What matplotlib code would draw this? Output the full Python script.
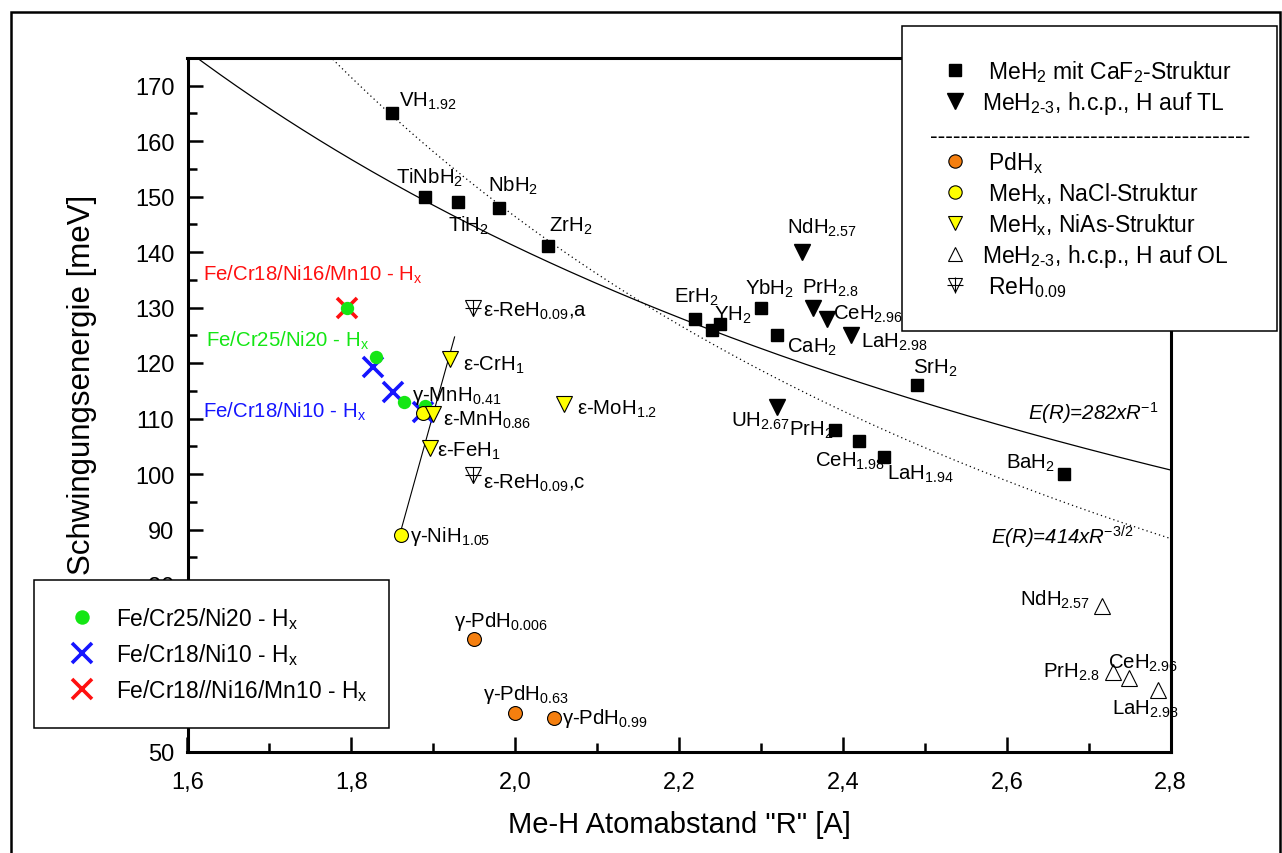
import numpy as np
import matplotlib
matplotlib.use("Agg")
import matplotlib.pyplot as plt
from matplotlib import ticker
from matplotlib.lines import Line2D
from matplotlib.patches import Rectangle

plt.rcParams['font.family'] = ['Liberation Sans', 'DejaVu Sans']
plt.rcParams['mathtext.fontset'] = 'custom'
plt.rcParams['mathtext.rm'] = 'Liberation Sans'
plt.rcParams['mathtext.it'] = 'Liberation Sans:italic'
plt.rcParams['mathtext.bf'] = 'Liberation Sans:bold'
plt.rcParams['mathtext.default'] = 'regular'

# ---------------- data ----------------
# MeH2 with CaF2 structure (black squares)
caf2_R = [1.85, 1.89, 1.93, 1.98, 2.04, 2.22, 2.24, 2.25, 2.30, 2.32, 2.49, 2.39, 2.42, 2.45, 2.67]
caf2_E = [165, 150, 149, 148, 141, 128, 126, 127, 130, 125, 116, 108, 106, 103, 100]
caf2_lbl = ['VH$_{1.92}$', 'TiNbH$_2$', 'TiH$_2$', 'NbH$_2$', 'ZrH$_2$', 'ErH$_2$', '',
            'YH$_2$', 'YbH$_2$', 'CaH$_2$', 'SrH$_2$', 'PrH$_2$', 'CeH$_{1.98}$',
            'LaH$_{1.94}$', 'BaH$_2$']

# MeH2-3, h.c.p., H on tetrahedral sites (black triangles)
tl_R = [2.35, 2.363, 2.38, 2.41, 2.32]
tl_E = [140, 130, 128, 125, 112]
tl_lbl = ['NdH$_{2.57}$', 'PrH$_{2.8}$', 'CeH$_{2.96}$', 'LaH$_{2.98}$', 'UH$_{2.67}$']

# PdHx (orange circles)
pd_R = [1.95, 2.00, 2.047]
pd_E = [70.3, 57, 56]
pd_lbl = ['γ-PdH$_{0.006}$', 'γ-PdH$_{0.63}$', 'γ-PdH$_{0.99}$']

# MeHx, NaCl structure (yellow circles)
nacl_R = [1.861, 1.888]
nacl_E = [89, 111]
nacl_lbl = ['γ-NiH$_{1.05}$', 'γ-MnH$_{0.41}$']

# MeHx, NiAs structure (yellow triangles)
nias_R = [1.92, 1.90, 1.896, 2.06]
nias_E = [120.7, 110.8, 104.6, 112.6]
nias_lbl = ['ε-CrH$_1$', 'ε-MnH$_{0.86}$', 'ε-FeH$_1$', 'ε-MoH$_{1.2}$']

# MeH2-3, h.c.p., H on octahedral sites (open triangles)
ol_R = [2.716, 2.730, 2.749, 2.785]
ol_E = [76.3, 64.4, 63.2, 61.1]
ol_lbl = ['NdH$_{2.57}$', 'PrH$_{2.8}$', 'CeH$_{2.96}$', 'LaH$_{2.98}$']

# ReH0.09
re_R = [1.949, 1.949]
re_E = [130, 99.8]
re_lbl = ['ε-ReH$_{0.09}$,a', 'ε-ReH$_{0.09}$,c']

# stainless steel hydrides
fe2520_R = [1.795, 1.830, 1.864, 1.890]
fe2520_E = [130, 121, 113, 112.3]
fe1810_R = [1.827, 1.851, 1.888]
fe1810_E = [119.2, 114.8, 111.1]
fe181610_R = [1.795]
fe181610_E = [130]

# trend line through the fcc/hcp 3d hydrides
trend_R = [1.858, 1.926]
trend_E = [88.5, 124.7]

# model curves E(R) = A * R^n
A1, N1 = 282.0, -1.0
A2, N2 = 414.0, -1.5

# ---------------- layout helpers ----------------
W, H = 1282, 854
LBL_FS = 14.7
SUB = dict(fontsize=LBL_FS, va='baseline')

caf2_off = [(7, 8, 'left'), (-29, 14, 'left'), (-10, -29, 'left'), (-11, 16.6, 'left'),
            (1, 15.6, 'left'), (-21, 16.6, 'left'), (0, 0, 'left'), (-5.7, 4.3, 'left'),
            (-16.3, 14.3, 'left'), (10, -16.7, 'left'), (-4, 12.7, 'left'),
            (-45.7, -5, 'left'), (-44.5, -25, 'left'), (3.5, -21.7, 'left'), (-9, 6.7, 'right')]
tl_off = [(-15, 19, 'left'), (-10.6, 15, 'left'), (6.7, 0, 'left'), (10, -11, 'left'),
          (-46, -18.3, 'left')]
pd_off = [(-20, 13.3, 'left'), (-32.7, 13.3, 'left'), (8.4, -5, 'left')]
nacl_off = [(8.3, -5.7, 'left'), (-11.6, 13.3, 'left')]
nias_off = [(13.3, -10.7, 'left'), (10, -11, 'left'), (6.7, -7.4, 'left'), (12.7, -10, 'left')]
ol_off = [(-12, 0.7, 'right'), (-14, -5.6, 'right'), (-20.7, 11, 'left'), (-46.6, -24.3, 'left')]
re_off = [(10, -8.4, 'left'), (10, -12.3, 'left')]

fig = plt.figure(figsize=(W / 100, H / 100), dpi=100)
ax = fig.add_axes([187.5 / W, 1 - 752.5 / H, (1170.7 - 187.5) / W, (752.5 - 58.75) / H])

# curves
R = np.linspace(1.6, 2.8, 300)
ax.plot(R, A1 * R ** N1, color='k', lw=0.9, zorder=2)
ax.plot(R, A2 * R ** N2, color='k', lw=0.9, ls=(0, (1, 2.5)), zorder=2)
ax.plot(trend_R, trend_E, color='k', lw=0.8, zorder=2)

# steel samples
ax.plot(fe181610_R, fe181610_E, ls='none', marker='x', ms=15, mew=2.6, color='#ff1010', zorder=3)
ax.plot(fe1810_R, fe1810_E, ls='none', marker='x', ms=15, mew=2.6, color='#1515ff', zorder=4)
ax.plot(fe2520_R, fe2520_E, ls='none', marker='o', ms=9.6, mew=0, color='#14e614', zorder=5)

# reference hydrides
ax.plot(caf2_R, caf2_E, ls='none', marker='s', ms=9, color='k', zorder=6)
ax.plot(tl_R, tl_E, ls='none', marker='v', ms=12, color='k', zorder=6)
ax.plot(pd_R, pd_E, ls='none', marker='o', ms=10, mfc='#f57f0f', mec='k', mew=0.8, zorder=6)
ax.plot(nacl_R, nacl_E, ls='none', marker='o', ms=10, mfc='#ffff00', mec='k', mew=0.8, zorder=6)
ax.plot(nias_R, nias_E, ls='none', marker='v', ms=12, mfc='#ffff00', mec='k', mew=0.8, zorder=7)
ax.plot(ol_R, ol_E, ls='none', marker='^', ms=12, mfc='white', mec='k', mew=0.8, zorder=6)
ax.plot(re_R, re_E, ls='none', marker='v', ms=11, mfc='none', mec='k', mew=0.8, zorder=6)
ax.plot(re_R, re_E, ls='none', marker='+', ms=12, mec='k', mew=0.8, zorder=6)

# point labels
groups = [(caf2_R, caf2_E, caf2_lbl, caf2_off), (tl_R, tl_E, tl_lbl, tl_off),
          (pd_R, pd_E, pd_lbl, pd_off), (nacl_R, nacl_E, nacl_lbl, nacl_off),
          (nias_R, nias_E, nias_lbl, nias_off), (ol_R, ol_E, ol_lbl, ol_off),
          (re_R, re_E, re_lbl, re_off)]
for xs, ys, labels, offs in groups:
    for x, y, t, (dx, dy, ha) in zip(xs, ys, labels, offs):
        if t:
            ax.annotate(t, (x, y), xytext=(dx, dy), textcoords='offset pixels',
                        ha=ha, zorder=8, **SUB)

# sample names
ax.text(1.6185, 135.0, 'Fe/Cr18/Ni16/Mn10 - H$_x$', color='#ff1010', **SUB)
ax.text(1.6226, 123.1, 'Fe/Cr25/Ni20 - H$_x$', color='#14e614', **SUB)
ax.text(1.6185, 110.3, 'Fe/Cr18/Ni10 - H$_x$', color='#1515ff', **SUB)

# curve formulas
ax.text(2.626, 109.9, 'E(R)=282xR$^{\\mathit{-1}}$', fontsize=LBL_FS, style='italic',
        va='baseline')
ax.text(2.581, 87.4, 'E(R)=414xR$^{\\mathit{-3/2}}$', fontsize=LBL_FS, style='italic',
        va='baseline')

# axes styling
ax.set_xlim(1.6, 2.8)
ax.set_ylim(50, 175)
ax.xaxis.set_major_locator(ticker.MultipleLocator(0.2))
ax.xaxis.set_minor_locator(ticker.MultipleLocator(0.1))
ax.yaxis.set_major_locator(ticker.MultipleLocator(10))
ax.yaxis.set_minor_locator(ticker.MultipleLocator(5))
ax.xaxis.set_major_formatter(ticker.FuncFormatter(lambda v, p: f'{v:.1f}'.replace('.', ',')))
ax.yaxis.set_major_formatter(ticker.FuncFormatter(lambda v, p: f'{v:.0f}'))
ax.tick_params(which='both', direction='in', top=False, right=False, width=1.8)
ax.tick_params(which='major', length=11, labelsize=17)
ax.tick_params(axis='x', which='major', pad=14)
ax.tick_params(axis='y', which='major', pad=9.5)
ax.tick_params(which='minor', length=6.5)
for s in ax.spines.values():
    s.set_linewidth(2.2)
ax.set_xlabel('Me-H Atomabstand "R" [A]', fontsize=21, labelpad=12)
ax.set_ylabel('Schwingungsenergie [meV]', fontsize=22.5)
ax.yaxis.set_label_coords(-0.092, 0.53)

# legend of reference hydrides
h_sq = Line2D([], [], ls='none', marker='s', ms=9, color='k')
h_tl = Line2D([], [], ls='none', marker='v', ms=12, color='k')
h_blank = Line2D([], [], ls='none')
h_pd = Line2D([], [], ls='none', marker='o', ms=9.6, mfc='#f57f0f', mec='k', mew=0.8)
h_nacl = Line2D([], [], ls='none', marker='o', ms=9.6, mfc='#ffff00', mec='k', mew=0.8)
h_nias = Line2D([], [], ls='none', marker='v', ms=10, mfc='#ffff00', mec='k', mew=0.8)
h_ol = Line2D([], [], ls='none', marker='^', ms=10, mfc='white', mec='k', mew=0.8)
h_re1 = Line2D([], [], ls='none', marker='v', ms=10, mfc='none', mec='k', mew=0.8)
h_re2 = Line2D([], [], ls='none', marker='+', ms=11, mec='k', mew=0.8)
leg1 = fig.legend([h_sq, h_tl, h_blank, h_pd, h_nacl, h_nias, h_ol, (h_re1, h_re2)],
                  [' MeH$_2$ mit CaF$_2$-Struktur', 'MeH$_{2\\text{-}3}$, h.c.p., H auf TL', ' ',
                   ' PdH$_x$', ' MeH$_x$, NaCl-Struktur', ' MeH$_x$, NiAs-Struktur',
                   'MeH$_{2\\text{-}3}$, h.c.p., H auf OL', ' ReH$_{0.09}$'],
                  loc='upper left', bbox_to_anchor=(902 / W, 1 - 27 / H - 0.1, 375 / W, 0.1),
                  bbox_transform=fig.transFigure, mode='expand', borderaxespad=0,
                  fontsize=16.5, fancybox=False, framealpha=1, edgecolor='k',
                  borderpad=1.4, handlelength=1.83, handletextpad=0.25, labelspacing=0.22)
leg1.get_frame().set_linewidth(1.1)
fig.text(930 / W, 1 - 136.7 / H, '-' * 42, fontsize=16.5, va='center', ha='left', zorder=6)

# legend of steel samples
g1 = Line2D([], [], ls='none', marker='o', ms=10.4, mew=0, color='#14e614')
g2 = Line2D([], [], ls='none', marker='x', ms=14, mew=2.6, color='#1515ff')
g3 = Line2D([], [], ls='none', marker='x', ms=14, mew=2.6, color='#ff1010')
leg2 = fig.legend([g1, g2, g3],
                  ['Fe/Cr25/Ni20 - H$_x$', 'Fe/Cr18/Ni10 - H$_x$', 'Fe/Cr18//Ni16/Mn10 - H$_x$'],
                  loc='upper left', bbox_to_anchor=(34.4 / W, 1 - 580.7 / H - 0.1, 355 / W, 0.1),
                  bbox_transform=fig.transFigure, mode='expand', borderaxespad=0,
                  fontsize=16.4, fancybox=False, framealpha=1, edgecolor='k',
                  borderpad=1.1, handlelength=2.0, handletextpad=0.48, labelspacing=0.45)
leg2.get_frame().set_linewidth(1.1)

# page frame
fig.add_artist(Rectangle((11 / W, -0.05), (1280 - 11) / W, 1.05 - 13 / H,
                         transform=fig.transFigure, fill=False, lw=1.8, ec='k', zorder=10))

fig.savefig('out.png', dpi=100)
